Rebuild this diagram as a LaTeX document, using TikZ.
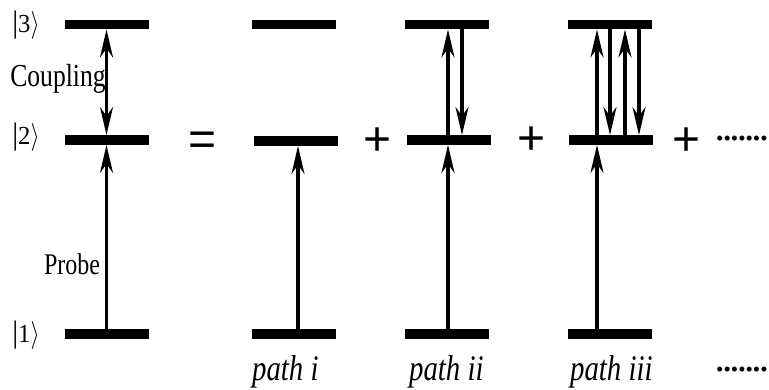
\documentclass[tikz,border=0pt]{standalone}
\usepackage{fontspec}
\usepackage{graphicx}
\setmainfont{Liberation Serif}
\newfontfamily\sansf{Liberation Sans}
\usetikzlibrary{arrows.meta,calc}
\newcommand\myket[1]{{\fontsize{31}{34}\selectfont|}{\fontsize{26}{30}\selectfont #1}\scalebox{1}[1.12]{\fontsize{26}{30}\selectfont$\rangle$}}
\tikzset{
  lvl/.style={fill=black, inner sep=0pt, minimum width=84pt, minimum height=9.5pt},
  tr/.style={line width=3.3pt, -{Stealth[length=28pt,width=13pt,inset=9pt]}},
  trb/.style={line width=3.3pt, {Stealth[length=28pt,width=13pt,inset=9pt]}-{Stealth[length=28pt,width=13pt,inset=9pt]}},
  ket/.style={inner sep=0pt, xscale=0.95},
  lab/.style={inner sep=0pt, anchor=base, xscale=0.8},
  plab/.style={inner sep=0pt, anchor=base west, xscale=0.8, font=\itshape\fontsize{36}{40}\selectfont},
  op/.style={inner sep=0pt, font=\sansf\fontsize{48}{50}\selectfont},
  dots/.style={inner sep=0pt, anchor=west, font=\fontsize{21}{24}\selectfont}
}
\begin{document}
\begin{tikzpicture}[x=1pt,y=-1pt]
\useasboundingbox (0,0) rectangle (769,389);
% column 1
\node[lvl] (L3a) at (106.5,24.5) {};
\node[lvl] (L2a) at (106.5,140) {};
\node[lvl] (L1a) at (106.5,334) {};
\draw[trb] (L2a.north) -- (L3a.south);
\draw[tr] (L1a.north) -- (L2a.south);
\node[ket] (k3) at (26,25) {\myket{3}};
\node[ket] (k2) at (26,137) {\myket{2}};
\node[ket] (k1) at (26,335) {\myket{1}};
\node[lab, font=\fontsize{32}{36}\selectfont] (coup) at (58,86) {Coupling};
\node[lab, font=\fontsize{30}{34}\selectfont] (probe) at (72,274) {Probe};
% equals
\node[op] (eq) at (202.5,144) {=};
% column 2 (path i)
\node[lvl] (L3b) at (294,24.5) {};
\node[lvl] (L2b) at (296,141) {};
\node[lvl] (L1b) at (294,334) {};
\draw[tr] ($(L1b.north)+(4,0)$) -- ($(L2b.south)+(2,0)$);
\node[plab] (pi) at (252,380) {path i};
\node[op] (p1) at (378,142) {+};
% column 3 (path ii)
\node[lvl] (L3c) at (447,24.5) {};
\node[lvl] (L2c) at (449,140) {};
\node[lvl] (L1c) at (447,334) {};
\draw[tr] ($(L1c.north)+(1,0)$) -- ($(L2c.south)+(-1,0)$);
\draw[tr] ($(L2c.north)+(-1,0)$) -- ($(L3c.south)+(1,0)$);
\draw[tr] ($(L3c.south)+(15,0)$) -- ($(L2c.north)+(13,0)$);
\node[plab] (pii) at (409,380) {path ii};
\node[op] (p2) at (532,141) {+};
% column 4 (path iii)
\node[lvl] (L3d) at (610,24.5) {};
\node[lvl] (L2d) at (610.5,140) {};
\node[lvl] (L1d) at (610,334) {};
\draw[tr] ($(L1d.north)+(-13,0)$) -- ($(L2d.south)+(-13.5,0)$);
\draw[tr] ($(L2d.north)+(-13.5,0)$) -- ($(L3d.south)+(-13,0)$);
\draw[tr] ($(L3d.south)+(0,0)$) -- ($(L2d.north)+(-0.5,0)$);
\draw[tr] ($(L2d.north)+(14.5,0)$) -- ($(L3d.south)+(15,0)$);
\draw[tr] ($(L3d.south)+(29,0)$) -- ($(L2d.north)+(28.5,0)$);
\node[plab] (piii) at (570,380) {path iii};
\node[op] (p3) at (687,142) {+};
% dots
\node[dots] (d1) at (716,141) {•••••••};
\node[dots] (d2) at (716,372) {•••••••};
\end{tikzpicture}
\end{document}
